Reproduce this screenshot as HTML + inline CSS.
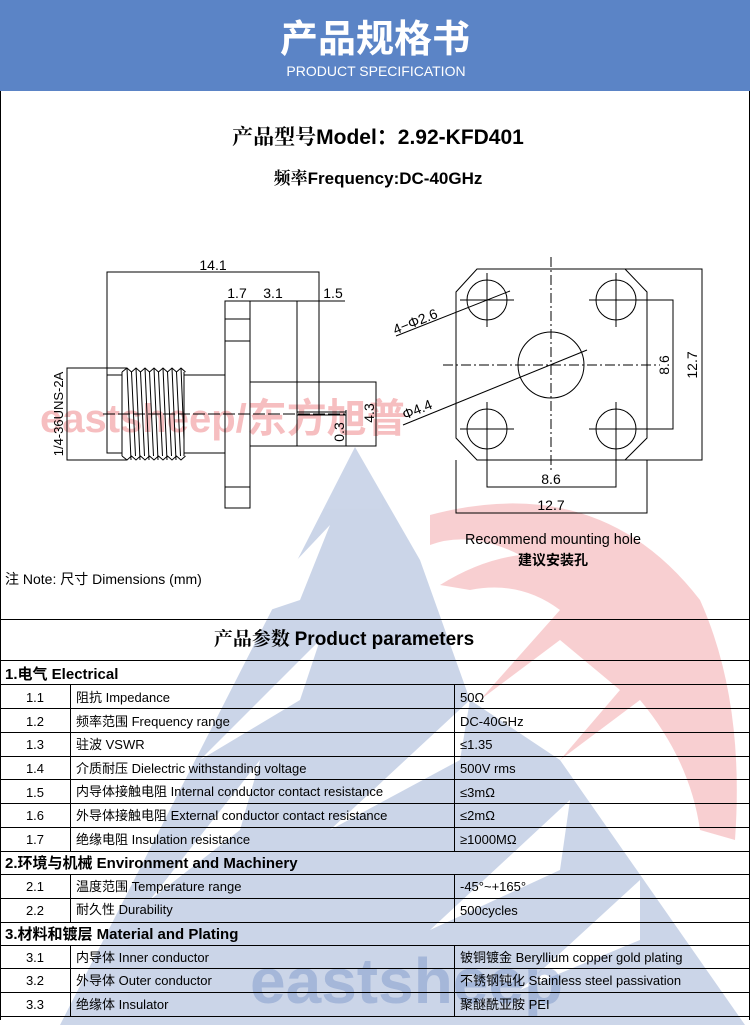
<!DOCTYPE html>
<html><head><meta charset="utf-8"><style>
html,body{margin:0;padding:0;background:#fff;}
body{width:750px;height:1025px;overflow:hidden;position:relative;}
svg{position:absolute;left:0;top:0;}
text{font-family:"Liberation Sans","Noto Sans CJK SC",sans-serif;}
</style></head><body>
<svg width="750" height="1025" viewBox="0 0 750 1025" xmlns="http://www.w3.org/2000/svg">
<!-- header -->
<rect x="0" y="0" width="750" height="91" fill="#5b84c6"/>
<text x="375" y="52" font-size="38" fill="#fff" font-weight="bold" text-anchor="middle" font-family="Noto Sans CJK SC,sans-serif">产品规格书</text>
<text x="376" y="76" font-size="14" fill="#fff" text-anchor="middle">PRODUCT SPECIFICATION</text>
<!-- watermark -->
<g opacity="0.4">
<polygon points="355,447 60,1025 745,1025 560,760 470,700 420,560" fill="#7f98c8"/>
<polygon points="330,525 240,620 300,600" fill="#fff"/>
<polygon points="320,640 200,760 300,700" fill="#fff"/>
<polygon points="470,700 330,830 460,760" fill="#fff"/>
<polygon points="570,800 430,930 560,870" fill="#fff"/>
<polygon points="640,880 520,990 640,940" fill="#fff"/>
<polygon points="260,760 150,900 240,830" fill="#fff"/>
<path d="M430,515 Q600,470 700,600 Q745,700 735,840 L700,830 Q690,760 640,700 L560,760 L620,690 L560,640 L480,700 L560,610 Q520,580 470,590 L440,585 Q480,560 520,555 Q470,530 430,545 Z" fill="#f08a8e"/>
</g>
<!-- borders -->
<g stroke="#000" stroke-width="1" fill="none">
<line x1="0.5" y1="91" x2="0.5" y2="1020"/>
<line x1="749.5" y1="91" x2="749.5" y2="1020"/>
</g>
<text x="378" y="144" font-size="21" font-weight="bold" text-anchor="middle"><tspan font-family="Noto Serif CJK SC,serif">产品型号</tspan>Model：2.92-KFD401</text>
<text x="378" y="184" font-size="17" font-weight="bold" text-anchor="middle"><tspan font-family="Noto Serif CJK SC,serif">频率</tspan>Frequency:DC-40GHz</text>
<!-- watermark text -->
<text x="40" y="432" font-size="40" font-weight="bold" fill="#f3a3a6" opacity="0.7">eastsheep/东方旭普</text>
<text x="250" y="1003" font-size="64" font-weight="bold" fill="#6f8bc4" opacity="0.4">eastsheep</text>
<!-- left drawing -->
<g stroke="#000" stroke-width="1" fill="none">
<polyline points="107,453 107,272 319,272 319,415"/>
<line x1="225" y1="301" x2="345" y2="301"/>
<rect x="225" y="301" width="25" height="207"/>
<line x1="225" y1="319" x2="250" y2="319"/>
<line x1="225" y1="341" x2="250" y2="341"/>
<line x1="225" y1="487" x2="250" y2="487"/>
<rect x="250" y="382" width="126" height="64"/>
<line x1="297" y1="301" x2="297" y2="446"/>
<line x1="297" y1="412" x2="346" y2="412"/>
<line x1="297" y1="415" x2="346" y2="415"/>
<line x1="346" y1="410" x2="346" y2="446"/>
<polyline points="127,368 67,368 67,460 127,460"/>
<polyline points="122,375 107,375 107,453 122,453"/>
<line x1="184" y1="375" x2="225" y2="375"/>
<line x1="184" y1="453" x2="225" y2="453"/>
<path d="M122,372 l5,-4 l4.5,4 l4.5,-4 l4.5,4 l4.5,-4 l4.5,4 l4.5,-4 l4.5,4 l4.5,-4 l4.5,4 l4.5,-4 l4.5,4 l4.5,-4 l4.5,4"/>
<path d="M122,456 l5,4 l4.5,-4 l4.5,4 l4.5,-4 l4.5,4 l4.5,-4 l4.5,4 l4.5,-4 l4.5,4 l4.5,-4 l4.5,4 l4.5,-4 l4.5,4 l4.5,-4"/>
<line x1="122" y1="372" x2="122" y2="456"/>
<line x1="184" y1="372" x2="184" y2="456"/>
<path d="M127,368 L131,460 M131.5,372 L135.5,456 M136,368 L140,460 M140.5,372 L144.5,456 M145,368 L149,460 M149.5,372 L153.5,456 M154,368 L158,460 M158.5,372 L162.5,456 M163,368 L167,460 M167.5,372 L171.5,456 M172,368 L176,460 M176.5,372 L180.5,456 M181,368 L184,440"/>
<line x1="103" y1="414" x2="345" y2="414" stroke-dasharray="12,3"/>
</g>
<g font-size="14" fill="#000">
<text x="213" y="270" text-anchor="middle">14.1</text>
<text x="237" y="298" text-anchor="middle">1.7</text>
<text x="273" y="298" text-anchor="middle">3.1</text>
<text x="333" y="298" text-anchor="middle">1.5</text>
<text transform="translate(63,414) rotate(-90)" text-anchor="middle" font-size="13">1/4-36UNS-2A</text>
<text transform="translate(344,432) rotate(-90)" text-anchor="middle">0.3</text>
<text transform="translate(374,413) rotate(-90)" text-anchor="middle">4.3</text>
</g>
<!-- right drawing -->
<g stroke="#000" stroke-width="1" fill="none">
<polygon points="477,269 625,269 647,292 647,438 625,460 477,460 456,438 456,292"/>
<circle cx="551" cy="365" r="33"/>
<circle cx="487" cy="300" r="20"/><circle cx="616" cy="300" r="20"/>
<circle cx="487" cy="429" r="20"/><circle cx="616" cy="429" r="20"/>
<path d="M460,300 h54 M487,273 v54 M589,300 h54 M616,273 v54 M460,429 h54 M487,402 v54 M589,429 h54 M616,402 v54"/>
<line x1="551" y1="257" x2="551" y2="472" stroke-dasharray="10,3,2,3"/>
<line x1="443" y1="365" x2="660" y2="365" stroke-dasharray="10,3,2,3"/>
<polyline points="625,269 702,269 702,460 625,460"/>
<polyline points="636,300 673,300 673,429 636,429"/>
<polyline points="487,449 487,487 616,487 616,449"/>
<polyline points="456,460 456,513 647,513 647,460"/>
<line x1="396" y1="336" x2="510" y2="291"/>
<line x1="403" y1="425" x2="587" y2="350"/>
</g>
<g font-size="14" fill="#000">
<text transform="translate(417,326) rotate(-22)" text-anchor="middle">4−Φ2.6</text>
<text transform="translate(419,414) rotate(-22)" text-anchor="middle">Φ4.4</text>
<text transform="translate(669,365) rotate(-90)" text-anchor="middle">8.6</text>
<text transform="translate(697,365) rotate(-90)" text-anchor="middle">12.7</text>
<text x="551" y="484" text-anchor="middle">8.6</text>
<text x="551" y="510" text-anchor="middle">12.7</text>
<text x="553" y="544" text-anchor="middle" font-size="15" textLength="176" lengthAdjust="spacingAndGlyphs">Recommend mounting hole</text>
<text x="553" y="565" text-anchor="middle" font-size="14" font-weight="bold" font-family="Noto Sans CJK SC,sans-serif">建议安装孔</text>
</g>
<text x="5" y="584" font-size="14">注 Note:  尺寸 Dimensions (mm)</text>
<!-- table -->
<g stroke="#000" stroke-width="1" fill="none">
<line x1="0" y1="619.5" x2="750" y2="619.5"/>
<line x1="0" y1="660.5" x2="750" y2="660.5"/>
<line x1="0" y1="684.5" x2="750" y2="684.5"/>
<line x1="0" y1="708.5" x2="750" y2="708.5"/>
<line x1="0" y1="732.5" x2="750" y2="732.5"/>
<line x1="0" y1="756.5" x2="750" y2="756.5"/>
<line x1="0" y1="779.5" x2="750" y2="779.5"/>
<line x1="0" y1="803.5" x2="750" y2="803.5"/>
<line x1="0" y1="827.5" x2="750" y2="827.5"/>
<line x1="0" y1="851.5" x2="750" y2="851.5"/>
<line x1="0" y1="874.5" x2="750" y2="874.5"/>
<line x1="0" y1="898.5" x2="750" y2="898.5"/>
<line x1="0" y1="922.5" x2="750" y2="922.5"/>
<line x1="0" y1="945.5" x2="750" y2="945.5"/>
<line x1="0" y1="968.5" x2="750" y2="968.5"/>
<line x1="0" y1="992.5" x2="750" y2="992.5"/>
<line x1="0" y1="1016.5" x2="750" y2="1016.5"/>
<path d="M70.5,684 V851 M454.5,684 V851 M70.5,874 V922 M454.5,874 V922 M70.5,945 V1016 M454.5,945 V1016"/>
</g>
<text x="344" y="645" font-size="19" font-weight="bold" text-anchor="middle"><tspan font-family="Noto Serif CJK SC,serif">产品参数 </tspan>Product parameters</text>
<g font-size="15" font-weight="bold">
<text x="5" y="679">1.电气 Electrical</text>
<text x="5" y="868">2.环境与机械 Environment and Machinery</text>
<text x="5" y="939">3.材料和镀层 Material and Plating</text>
</g>
<g font-size="13">
<text x="35" y="702" text-anchor="middle">1.1</text><text x="76" y="702">阻抗 Impedance</text><text x="460" y="702">50Ω</text>
<text x="35" y="726" text-anchor="middle">1.2</text><text x="76" y="726">频率范围 Frequency range</text><text x="460" y="726">DC-40GHz</text>
<text x="35" y="749" text-anchor="middle">1.3</text><text x="76" y="749">驻波 VSWR</text><text x="460" y="749">≤1.35</text>
<text x="35" y="773" text-anchor="middle">1.4</text><text x="76" y="773">介质耐压 Dielectric withstanding voltage</text><text x="460" y="773">500V rms</text>
<text x="35" y="797" text-anchor="middle">1.5</text><text x="76" y="796">内导体接触电阻 Internal conductor contact resistance</text><text x="460" y="797">≤3mΩ</text>
<text x="35" y="820" text-anchor="middle">1.6</text><text x="76" y="820">外导体接触电阻 External conductor contact resistance</text><text x="460" y="820">≤2mΩ</text>
<text x="35" y="844" text-anchor="middle">1.7</text><text x="76" y="844">绝缘电阻  Insulation resistance</text><text x="460" y="844">≥1000MΩ</text>
<text x="35" y="891" text-anchor="middle">2.1</text><text x="76" y="891">温度范围 Temperature range</text><text x="460" y="891">-45°~+165°</text>
<text x="35" y="915" text-anchor="middle">2.2</text><text x="76" y="914">耐久性 Durability</text><text x="460" y="915">500cycles</text>
<text x="35" y="962" text-anchor="middle">3.1</text><text x="76" y="962">内导体 Inner conductor</text><text x="460" y="962">铍铜镀金 Beryllium copper gold plating</text>
<text x="35" y="985" text-anchor="middle">3.2</text><text x="76" y="985">外导体 Outer conductor</text><text x="460" y="985">不锈钢钝化 Stainless steel passivation</text>
<text x="35" y="1009" text-anchor="middle">3.3</text><text x="76" y="1009">绝缘体 Insulator</text><text x="460" y="1009">聚醚酰亚胺 PEI</text>
</g>
</svg>
</body></html>
